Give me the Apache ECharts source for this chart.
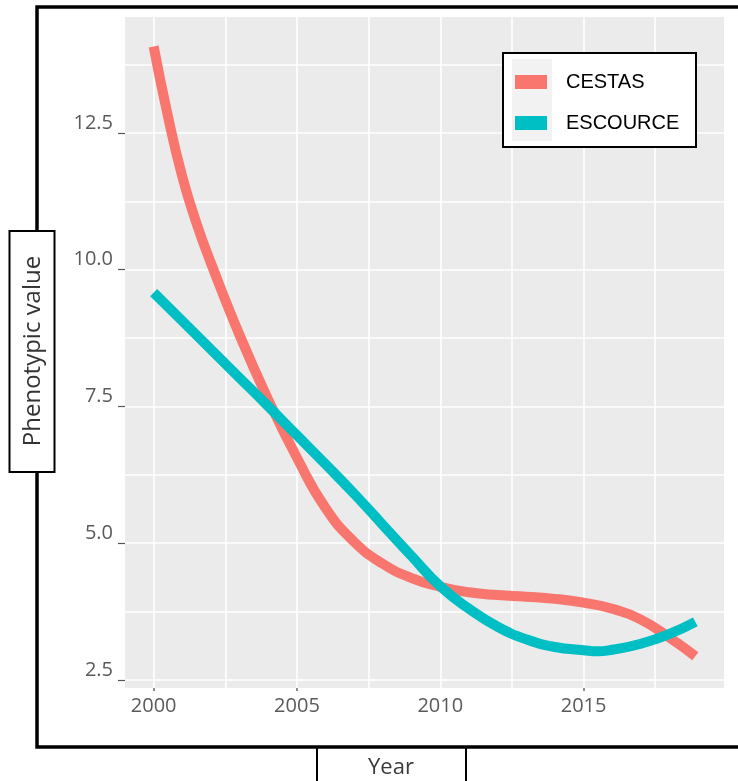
<!DOCTYPE html>
<html>
<head>
<meta charset="utf-8">
<script src="https://cdn.jsdelivr.net/npm/echarts@6/dist/echarts.min.js"></script>
<style>
html,body{margin:0;padding:0;background:#fff;}
#chart{width:738px;height:781px;}
</style>
</head>
<body>
<div id="chart"></div>
<script>
// ---- data ----
var cestasYears = [2000, 2000.5, 2001, 2001.5, 2002, 2003, 2004, 2005, 2006, 2007, 2008, 2009,
                   2010, 2011, 2012, 2013, 2014, 2015, 2016, 2017, 2018, 2018.9];
var cestas = [14.08, 12.8, 11.7, 10.84, 10.12, 8.8, 7.62, 6.56, 5.64, 5.02, 4.62, 4.36,
              4.2, 4.1, 4.05, 4.02, 3.98, 3.91, 3.8, 3.6, 3.27, 2.93];
var escourceYears = [2000, 2001, 2002, 2003, 2004, 2005, 2006, 2007, 2008, 2009,
                     2010, 2011, 2012, 2013, 2014, 2015, 2015.5, 2016, 2017, 2018, 2018.9];
var escource = [9.58, 9.06, 8.54, 8.02, 7.5, 6.97, 6.44, 5.9, 5.33, 4.76,
                4.21, 3.8, 3.47, 3.24, 3.1, 3.04, 3.02, 3.05, 3.16, 3.34, 3.56];
var seriesNames = ['CESTAS', 'ESCOURCE'];
var xTickLabels = [2000, 2005, 2010, 2015];
var xTickMarks = [2000, 2005, 2015];
var xGridValues = [2000, 2002.5, 2005, 2007.5, 2010, 2012.5, 2015, 2017.5];
var yTickLabels = [2.5, 5.0, 7.5, 10.0, 12.5];
var yGridValues = [2.5, 3.75, 5.0, 6.25, 7.5, 8.75, 10.0, 11.25, 12.5, 13.75];
var xTitle = 'Year';
var yTitle = 'Phenotypic value';

function pairs(xs, ys) { return xs.map(function (x, i) { return [x, ys[i]]; }); }

var chart = echarts.init(document.getElementById('chart'), null, {renderer: 'canvas'});
var tickFont = {fontFamily: 'Open Sans', fontSize: 20, color: '#5a5a5a'};

var option = {
  backgroundColor: '#ffffff',
  animation: false,
  grid: {left: 125, right: 14, top: 17, bottom: 93, show: true, backgroundColor: '#EBEBEB', borderWidth: 0},
  xAxis: [{
    type: 'value', min: 1999.0, max: 2019.9,
    axisLine: {show: false},
    axisTick: {show: false, customValues: xGridValues},
    splitLine: {show: true, lineStyle: {color: '#ffffff', width: 1.6}},
    axisLabel: Object.assign({customValues: xTickLabels, margin: 8, formatter: function (v) { return String(v); }}, tickFont)
  }, {
    type: 'value', min: 1999.0, max: 2019.9, position: 'bottom',
    axisLine: {show: false},
    axisTick: {show: true, length: 3, customValues: xTickMarks, lineStyle: {color: '#666', width: 1.5}},
    splitLine: {show: false},
    axisLabel: {show: false}
  }],
  yAxis: [{
    type: 'value', min: 2.35, max: 14.62,
    axisLine: {show: false},
    axisTick: {show: false, customValues: yGridValues},
    splitLine: {show: true, lineStyle: {color: '#ffffff', width: 1.6}},
    axisLabel: Object.assign({customValues: yTickLabels, margin: 12, verticalAlign: 'bottom',
      formatter: function (v) { return v.toFixed(1); }}, tickFont)
  }, {
    type: 'value', min: 2.35, max: 14.62, position: 'left',
    axisLine: {show: false},
    axisTick: {show: true, length: 7, customValues: yTickLabels, lineStyle: {color: '#555', width: 1.2}},
    splitLine: {show: false},
    axisLabel: {show: false}
  }],
  legend: {
    data: seriesNames,
    orient: 'vertical',
    left: 515, top: 72,
    padding: 0,
    itemGap: 21,
    itemWidth: 32, itemHeight: 14,
    icon: 'rect',
    z: 50,
    textStyle: {fontFamily: 'Liberation Sans', fontSize: 20, color: '#000', lineHeight: 20, padding: [0, 0, 0, 14]}
  },
  series: [{
    name: seriesNames[0], type: 'line', xAxisIndex: 0, yAxisIndex: 0,
    data: pairs(cestasYears, cestas), smooth: 0.5, showSymbol: false,
    color: '#F8766D', lineStyle: {width: 10, color: '#F8766D', cap: 'butt'}, z: 3
  }, {
    name: seriesNames[1], type: 'line', xAxisIndex: 0, yAxisIndex: 0,
    data: pairs(escourceYears, escource), smooth: 0.5, showSymbol: false,
    color: '#00BFC4', lineStyle: {width: 10, color: '#00BFC4', cap: 'butt'}, z: 4
  }],
  graphic: [
    {type: 'rect', z: 30, shape: {x: 37, y: 7, width: 740, height: 740},
     style: {fill: 'none', stroke: '#000', lineWidth: 3.5}},
    {type: 'rect', z: 31, shape: {x: 9.5, y: 231, width: 45, height: 241},
     style: {fill: '#fff', stroke: '#000', lineWidth: 2}},
    {type: 'text', z: 32, x: 33, y: 351, rotation: Math.PI / 2,
     style: {text: yTitle, font: '24px "Open Sans"', fill: '#333', textAlign: 'center', textVerticalAlign: 'middle'}},
    {type: 'rect', z: 29, shape: {x: 317, y: 747, width: 149, height: 60},
     style: {fill: '#fff', stroke: '#000', lineWidth: 2}},
    {type: 'text', z: 32, x: 391, y: 768,
     style: {text: xTitle, font: '22px "Open Sans"', fill: '#3a3a3a', textAlign: 'center', textVerticalAlign: 'middle'}},
    {type: 'rect', z: 40, shape: {x: 503, y: 53, width: 193, height: 94},
     style: {fill: '#fff', stroke: '#000', lineWidth: 2}},
    {type: 'rect', z: 41, shape: {x: 512, y: 59, width: 40, height: 82},
     style: {fill: '#F2F2F2'}}
  ]
};
chart.setOption(option);
</script>
</body>
</html>
